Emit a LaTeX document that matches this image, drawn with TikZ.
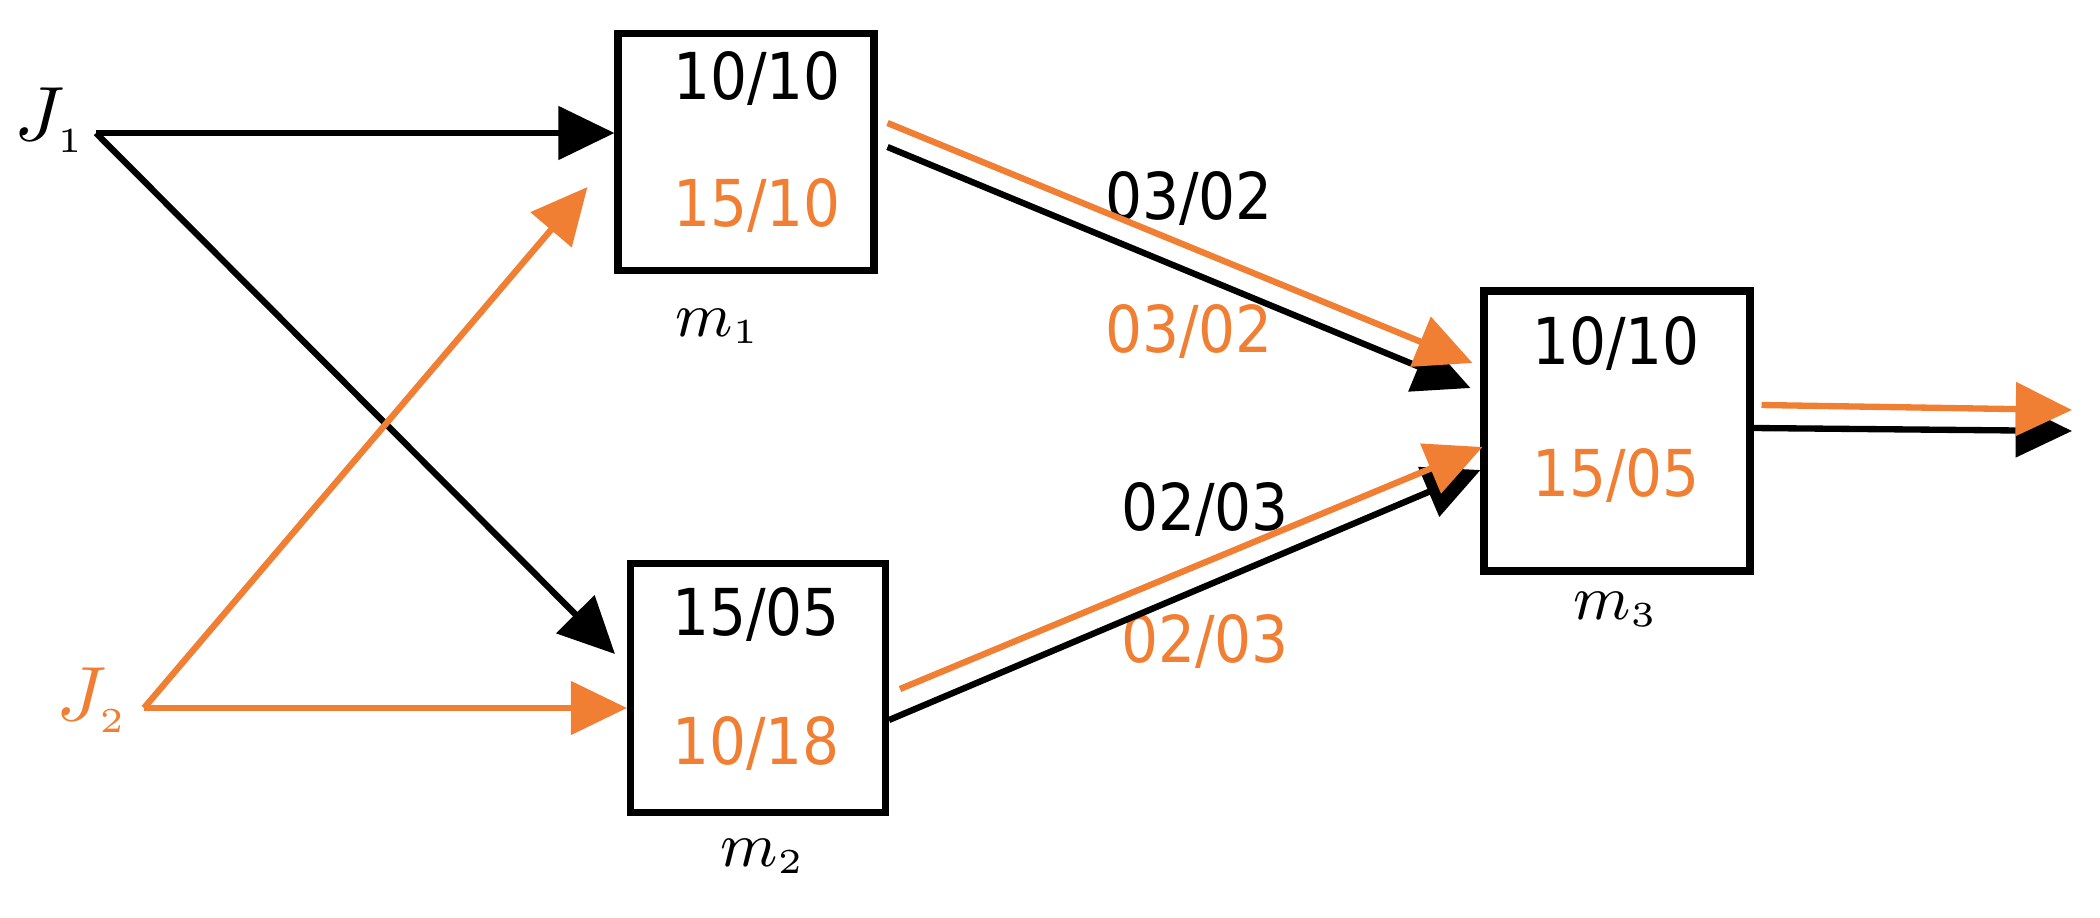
\documentclass[tikz,border=0pt]{standalone}
\usepackage{fontspec}
\usepackage{amsmath}
\usetikzlibrary{positioning, arrows.meta, calc}
\newfontfamily\numfont{DejaVu Sans Condensed}
\definecolor{jorange}{HTML}{F07F33}
\tikzstyle{machine} = [rectangle, draw=black, line width=1pt]
\tikzstyle{blacknum} = [font=\numfont\fontsize{9.2}{11}\selectfont, text=black, inner sep=0pt]
\tikzstyle{orangenum} = [font=\numfont\fontsize{9.2}{11}\selectfont, text=jorange, inner sep=0pt]
\tikzstyle{jobname} = [font=\fontsize{11}{13}\selectfont, inner sep=0pt]
\tikzstyle{mname} = [font=\fontsize{9.5}{11}\selectfont, inner sep=0pt]
\tikzstyle{blackarrow} = [line width=0.9pt, draw=black, -{Triangle[length=8pt,width=7.5pt]}]
\tikzstyle{orangearrow} = [line width=0.9pt, draw=jorange, -{Triangle[length=8pt,width=7.5pt]}]

\begin{document}
\begin{tikzpicture}

\useasboundingbox (0,0) rectangle (10.5,-4.585);

% machines
\node (m1) [machine, minimum width=1.28cm, minimum height=1.185cm] at (3.73,-0.76) {};
\node (m2) [machine, minimum width=1.275cm, minimum height=1.245cm] at (3.79,-3.44) {};
\node (m3) [machine, minimum width=1.33cm, minimum height=1.40cm] at (8.085,-2.155) {};

\node (m1a) [blacknum] at (3.785,-0.39) {10/10};
\node (m1b) [orangenum] at (3.785,-1.025) {15/10};
\node (m2a) [blacknum] at (3.78,-3.07) {15/05};
\node (m2b) [orangenum] at (3.78,-3.715) {10/18};
\node (m3a) [blacknum] at (8.08,-1.715) {10/10};
\node (m3b) [orangenum] at (8.08,-2.375) {15/05};

\node (m1name) [mname] at (3.59,-1.63) {$m_{\scriptscriptstyle 1}$};
\node (m2name) [mname] at (3.815,-4.28) {$m_{\scriptscriptstyle 2}$};
\node (m3name) [mname] at (8.08,-3.045) {$m_{\scriptscriptstyle 3}$};

% jobs
\node (J1) [jobname] at (0.25,-0.6) {$J_{\scriptscriptstyle 1}$};
\node (J2) [jobname, text=jorange] at (0.46,-3.5) {$J_{\scriptscriptstyle 2}$};
\coordinate (J1out) at (0.48,-0.665);
\coordinate (J2out) at (0.72,-3.54);
\coordinate (outO) at (10.36,-2.05);
\coordinate (outB) at (10.36,-2.155);

% transfer times
\node (t13a) [blacknum] at (5.945,-0.99) {03/02};
\node (t13b) [orangenum] at (5.945,-1.655) {03/02};
\node (t23a) [blacknum] at (6.025,-2.545) {02/03};
\node (t23b) [orangenum] at (6.025,-3.205) {02/03};

\draw [blackarrow] (J1out) -- (J1out -| m1.west);
\draw [blackarrow] (J1out) -- ($(m2.west)+(-0.06,0.17)$);
\draw [orangearrow] (J2out) -- ($(m1.west)+(-0.135,-0.175)$);
\draw [orangearrow] (J2out) -- (J2out -| m2.west);

\draw [blackarrow] ($(m1.east)+(0.05,0.025)$) -- ($(m3.west)+(-0.05,0.215)$);
\draw [orangearrow] ($(m1.east)+(0.05,0.145)$) -- ($(m3.west)+(-0.04,0.34)$);
\draw [blackarrow] ($(m2.east)+(0,-0.16)$) -- ($(m3.west)+(0,-0.195)$);
\draw [orangearrow] ($(m2.east)+(0.055,-0.005)$) -- ($(m3.west)+(0.01,-0.08)$);

\draw [blackarrow] ($(m3.east)+(0,0.015)$) -- (outB);
\draw [orangearrow] ($(m3.east)+(0.04,0.13)$) -- (outO);

\end{tikzpicture}
\end{document}
